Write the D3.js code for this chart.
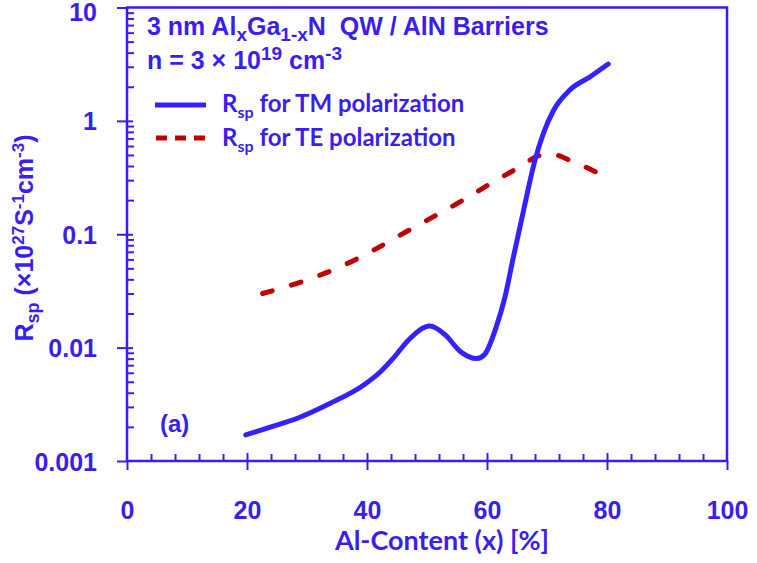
<!DOCTYPE html>
<html>
<head>
<meta charset="utf-8">
<script src="https://cdn.jsdelivr.net/npm/d3@7"></script>
<style>
  body { margin: 0; background: #fff; }
  svg { display: block; }
</style>
</head>
<body>
<svg id="chart" width="757" height="563"></svg>
<script>
// values
var tmX = [19.8, 24, 28.3, 33.8, 39.4, 42.2, 44.5, 47.0, 50.5, 53.0, 55.5, 58.3, 59.6, 61.5, 63.0, 64.4, 66.1, 68.0, 69.4, 71.1, 73.8, 77.2, 80.2];
var tmY = [0.0017, 0.002, 0.00237, 0.00321, 0.00466, 0.0061, 0.0082, 0.0118, 0.0155, 0.0130, 0.0093, 0.0080, 0.0087, 0.0150, 0.028, 0.063, 0.163, 0.45, 0.776, 1.24, 1.87, 2.45, 3.17];

var teX = [22.6, 29.9, 35.5, 41.1, 45.5, 51.1, 55.5, 61.1, 65.5, 68.5, 70.5, 74.4, 80.2];
var teY = [0.030, 0.0394, 0.0515, 0.0724, 0.098, 0.143, 0.193, 0.29, 0.394, 0.49, 0.51, 0.436, 0.31];

var xTicks = [0, 20, 40, 60, 80, 100];
var yTicks = [0.001, 0.01, 0.1, 1, 10];
var yTickLabels = ["0.001", "0.01", "0.1", "1", "10"];

var blue = "#3a1ef0";
var lineBlue = "#3322ff";
var red = "#c00000";

var svg = d3.select("#chart");
var margin = { top: 7.5, left: 127, right: 30, bottom: 102 };
var width = 600, height = 453.5;

var x = d3.scaleLinear().domain([0, 100]).range([0, width]);
var y = d3.scaleLog().domain([0.001, 10]).range([height, 0]);

var g = svg.append("g").attr("transform", "translate(" + margin.left + "," + margin.top + ")");

// frame (top and right plain)
g.append("rect")
    .attr("width", width).attr("height", height)
    .attr("fill", "none").attr("stroke", blue).attr("stroke-width", 2.5);

// x axis: minor ticks inside, major ticks crossing
var xMinor = d3.range(0, 101, 4).filter(function (d) { return d % 20 !== 0; });
g.append("g")
    .attr("transform", "translate(0," + height + ")")
    .call(d3.axisBottom(x).tickValues(xMinor).tickSizeInner(-7).tickSizeOuter(0).tickFormat(""))
    .call(function (a) { a.select(".domain").remove(); a.selectAll("line").attr("stroke", blue).attr("stroke-width", 2); });

var xAxis = g.append("g")
    .attr("transform", "translate(0," + height + ")")
    .call(d3.axisBottom(x).tickValues(xTicks).tickSizeOuter(0).tickPadding(0));
xAxis.select(".domain").remove();
xAxis.selectAll("line")
    .attr("y1", function (d) { return (d === 0 || d === 100) ? 0 : -8; })
    .attr("y2", 9)
    .attr("stroke", blue).attr("stroke-width", 2);
xAxis.selectAll("text")
    .attr("y", 58).attr("dy", null)
    .attr("fill", blue)
    .style("font-family", "'Liberation Sans', Arial, sans-serif")
    .style("font-weight", "bold").style("font-size", "25px");

// y axis
var yMinor = y.ticks().filter(function (d) {
    var m = Math.round(d / Math.pow(10, Math.floor(Math.log10(d) + 1e-9)));
    return m !== 1;
});
g.append("g")
    .call(d3.axisLeft(y).tickValues(yMinor).tickSizeInner(-7).tickSizeOuter(0).tickFormat(""))
    .call(function (a) { a.select(".domain").remove(); a.selectAll("line").attr("stroke", blue).attr("stroke-width", 2); });

var yAxis = g.append("g")
    .call(d3.axisLeft(y).tickValues(yTicks).tickSizeOuter(0).tickPadding(0)
        .tickFormat(function (d, i) { return yTickLabels[i]; }));
yAxis.select(".domain").remove();
yAxis.selectAll("line")
    .attr("x1", function (d) { return (d === 0.001 || d === 10) ? 0 : 6; })
    .attr("x2", -10)
    .attr("stroke", blue).attr("stroke-width", 2);
yAxis.selectAll("text")
    .attr("x", -30).attr("dy", function (d) { return d === 10 ? "0.5em" : "0.36em"; })
    .attr("fill", blue)
    .style("font-family", "'Liberation Sans', Arial, sans-serif")
    .style("font-weight", "bold").style("font-size", "25px");

// curves
var line = d3.line()
    .x(function (d) { return x(d[0]); })
    .y(function (d) { return y(d[1]); })
    .curve(d3.curveMonotoneX);

g.append("path")
    .datum(d3.zip(teX, teY))
    .attr("d", line)
    .attr("fill", "none").attr("stroke", red).attr("stroke-width", 5)
    .attr("stroke-linecap", "round").attr("stroke-dasharray", "10,20");

g.append("path")
    .datum(d3.zip(tmX, tmY))
    .attr("d", line)
    .attr("fill", "none").attr("stroke", lineBlue).attr("stroke-width", 5)
    .attr("stroke-linecap", "round");

// texts
var arial = "'Liberation Sans', Arial, sans-serif";
var lato = "Lato, 'Open Sans', sans-serif";

function txt(xp, yp, font, size) {
    return svg.append("text").attr("x", xp).attr("y", yp)
        .attr("fill", blue).style("font-family", font)
        .style("font-weight", "bold").style("font-size", size + "px");
}

var t1 = txt(147, 35, arial, 25);
t1.append("tspan").text("3 nm Al");
t1.append("tspan").text("x").attr("dy", 6).style("font-size", "19px");
t1.append("tspan").text("Ga").attr("dy", -6);
t1.append("tspan").text("1-x").attr("dy", 6).style("font-size", "19px");
t1.append("tspan").text("N\u00a0\u00a0QW / AlN Barriers").attr("dy", -6);

var t2 = txt(147, 69, arial, 25);
t2.append("tspan").text("n = 3 \u00d7 10");
t2.append("tspan").text("19").attr("dy", -9).style("font-size", "19px");
t2.append("tspan").text(" cm").attr("dy", 9);
t2.append("tspan").text("-3").attr("dy", -9).style("font-size", "19px");

// legend
svg.append("line").attr("x1", 155).attr("x2", 206).attr("y1", 105).attr("y2", 105)
    .attr("stroke", lineBlue).attr("stroke-width", 5);
svg.append("line").attr("x1", 156).attr("x2", 206).attr("y1", 138).attr("y2", 138)
    .attr("stroke", red).attr("stroke-width", 5).attr("stroke-dasharray", "11,8");

var l1 = txt(222, 112, lato, 24);
l1.append("tspan").text("R");
l1.append("tspan").text("sp").attr("dy", 6).style("font-size", "16px");
l1.append("tspan").text(" for TM polarization").attr("dy", -6);

var l2 = txt(222, 146, lato, 24);
l2.append("tspan").text("R");
l2.append("tspan").text("sp").attr("dy", 6).style("font-size", "16px");
l2.append("tspan").text(" for TE polarization").attr("dy", -6);

txt(160, 432, arial, 24).text("(a)");

// axis titles
txt(442, 550, lato, 27).attr("text-anchor", "middle").text("Al-Content (x) [%]");

var yt = svg.append("text")
    .attr("transform", "translate(33,238) rotate(-90)")
    .attr("text-anchor", "middle")
    .attr("fill", blue).style("font-family", arial)
    .style("font-weight", "bold").style("font-size", "25px");
yt.append("tspan").text("R");
yt.append("tspan").text("sp").attr("dy", 6).style("font-size", "18px");
yt.append("tspan").text(" (\u00d710").attr("dy", -6);
yt.append("tspan").text("27").attr("dy", -9).style("font-size", "17px");
yt.append("tspan").text("S").attr("dy", 9);
yt.append("tspan").text("-1").attr("dy", -9).style("font-size", "17px");
yt.append("tspan").text("cm").attr("dy", 9);
yt.append("tspan").text("-3").attr("dy", -9).style("font-size", "17px");
yt.append("tspan").text(")").attr("dy", 9);
</script>
</body>
</html>
